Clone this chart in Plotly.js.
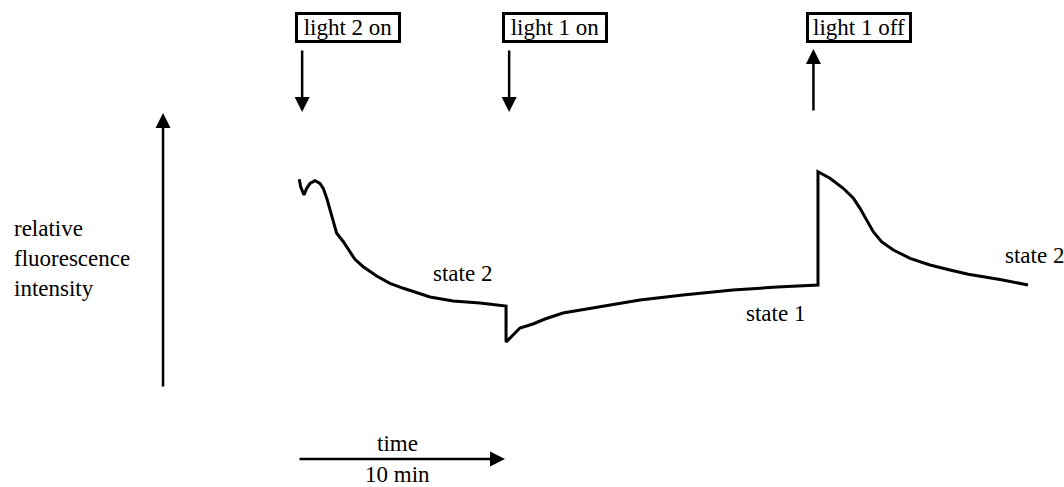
<!DOCTYPE html>
<html>
<head>
<meta charset="utf-8">
<script src="https://cdn.plot.ly/plotly-3.0.1.min.js"></script>
<style>
  html, body { margin: 0; padding: 0; background: #fff; }
  #plot { width: 1064px; height: 487px; }
</style>
</head>
<body>
<div id="plot"></div>
<script>
// fluorescence trace, time in minutes, intensity in arbitrary units
var timeMin = [0.06, 0.13, 0.29, 0.42, 0.58, 0.82, 1.06, 1.22, 1.39, 1.55, 1.71, 1.87,
  2.19, 2.51, 2.75, 3.15, 3.80, 4.44, 5.09, 6.38, 7.49, 8.79, 10.05,
  10.05, 10.72, 11.35, 11.93, 12.80, 14.59, 16.52, 18.60, 21.01, 23.14, 25.12,
  25.12, 25.70, 26.34, 26.83, 27.15, 27.47, 27.79, 28.19, 28.76, 29.57, 30.53,
  31.50, 32.38, 33.91, 35.27];
var fluor = [30.77, 30.03, 29.20, 29.87, 30.37, 30.63, 30.37, 29.87, 28.87, 27.70, 26.37, 25.37,
  24.53, 23.53, 22.77, 22.03, 21.10, 20.37, 19.87, 19.00, 18.60, 18.40, 18.10,
  14.50, 15.90, 16.30, 16.80, 17.40, 18.00, 18.70, 19.20, 19.70, 20.00, 20.20,
  31.53, 30.87, 29.87, 28.87, 27.87, 26.70, 25.53, 24.53, 23.70, 22.87, 22.20,
  21.70, 21.27, 20.75, 20.20];

// light switching events
var eventTimes = [0.2, 10.2, 24.9];
var eventLabels = ["light 2 on", "light 1 on", "light 1 off"];
var eventDir = ["down", "down", "up"];

// state labels
var stateLabels = ["state 2", "state 1", "state 2"];
var stateTimes = [7.97, 23.09, 34.06];
var stateLevels = [21.4, 17.4, 23.2];

var scaleMin = 10;   // length of the time scale bar

var serif = "Liberation Serif, Times New Roman, serif";
var fs = 23;

var annotations = [];

// boxed labels and arrows for each event
var arrowHigh = 43.8, arrowLow = 37.5;
for (var i = 0; i < eventTimes.length; i++) {
  annotations.push({
    x: eventTimes[i], y: 45.95, xref: "x", yref: "y",
    xanchor: "left", yanchor: "middle", xshift: -7,
    text: eventLabels[i], showarrow: false,
    font: {family: serif, size: fs, color: "#000"},
    bordercolor: "#000", borderwidth: 3, borderpad: 0,
    width: 100, height: 25, align: "center"
  });
  var headY = eventDir[i] == "down" ? arrowLow : arrowHigh;
  var tailY = eventDir[i] == "down" ? arrowHigh : arrowLow;
  annotations.push({
    x: eventTimes[i], y: headY, ax: eventTimes[i], ay: tailY,
    xref: "x", yref: "y", axref: "x", ayref: "y",
    text: "", showarrow: true, arrowhead: 2, arrowsize: 1.2,
    arrowwidth: 2.5, arrowcolor: "#000"
  });
}

// state labels
for (var j = 0; j < stateLabels.length; j++) {
  annotations.push({
    x: stateTimes[j], y: stateLevels[j], xref: "x", yref: "y",
    xanchor: j == 2 ? "left" : "center", yanchor: "middle",
    text: stateLabels[j], showarrow: false,
    font: {family: serif, size: fs, color: "#000"}
  });
}

// y "axis" arrow
annotations.push({
  x: -6.52, y: 37.4, ax: -6.52, ay: 9.9,
  xref: "x", yref: "y", axref: "x", ayref: "y",
  text: "", showarrow: true, arrowhead: 2, arrowsize: 1.2,
  arrowwidth: 2.5, arrowcolor: "#000"
});
annotations.push({
  x: -13.82, y: 22.9, xref: "x", yref: "y", xanchor: "left", yanchor: "middle",
  text: "relative<br>fluorescence<br>intensity", align: "left", showarrow: false,
  font: {family: serif, size: fs, color: "#000"}
});

// time scale bar
annotations.push({
  x: scaleMin, y: 2.8, ax: 0, ay: 2.8,
  xref: "x", yref: "y", axref: "x", ayref: "y",
  text: "", showarrow: true, arrowhead: 2, arrowsize: 1.2,
  arrowwidth: 2.5, arrowcolor: "#000"
});
annotations.push({
  x: 4.8, y: 4.4, xref: "x", yref: "y", showarrow: false,
  text: "time", font: {family: serif, size: fs, color: "#000"}
});
annotations.push({
  x: 4.8, y: 1.25, xref: "x", yref: "y", showarrow: false,
  text: scaleMin + " min", font: {family: serif, size: fs, color: "#000"}
});

var trace = {
  x: timeMin, y: fluor, mode: "lines", type: "scatter",
  line: {color: "#000", width: 3, shape: "linear"},
  hoverinfo: "none", showlegend: false, cliponaxis: false
};

var layout = {
  width: 1064, height: 487,
  margin: {l: 0, r: 0, t: 0, b: 0},
  paper_bgcolor: "#fff", plot_bgcolor: "#fff",
  xaxis: {range: [-298 / 20.7, (1064 - 298) / 20.7], visible: false, fixedrange: true},
  yaxis: {range: [0, 48.7], visible: false, fixedrange: true},
  annotations: annotations,
  showlegend: false
};

Plotly.newPlot("plot", [trace], layout, {staticPlot: true});
</script>
</body>
</html>
